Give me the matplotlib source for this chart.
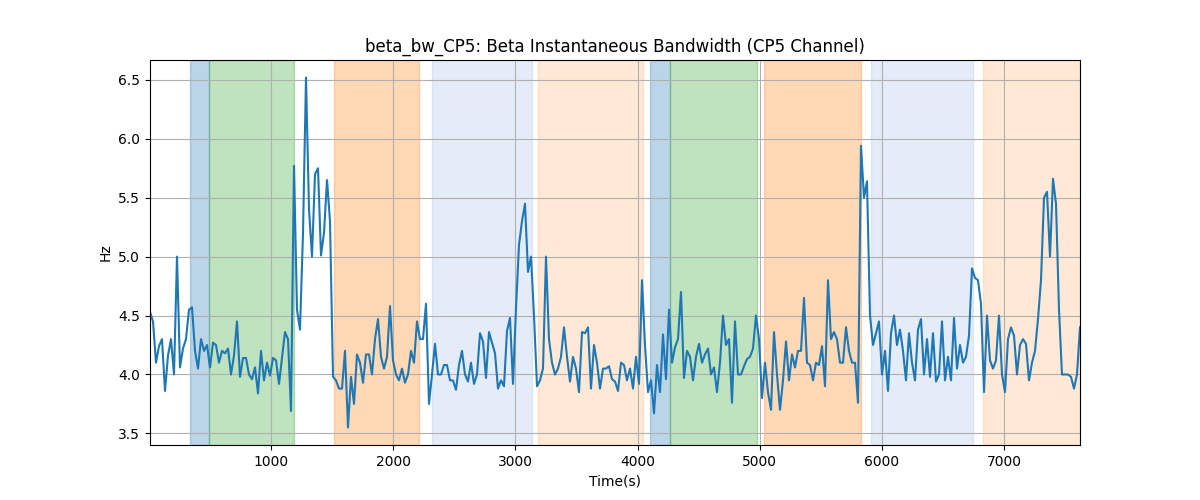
import numpy as np
import matplotlib
matplotlib.use('Agg')
import matplotlib.pyplot as plt

# Beta bandwidth values (Hz), every 3 px
bw_values = [
    # 10 .. ~950 s
    4.53, 4.45, 4.10, 4.24, 4.30, 3.86, 4.16, 4.30, 4.00, 5.00, 4.06, 4.22, 4.30,
    4.55, 4.57, 4.20, 4.05, 4.30, 4.20, 4.25, 4.06, 4.27, 4.25, 4.10, 4.20, 4.18,
    4.22, 4.00, 4.16, 4.45, 3.98, 4.14, 4.14, 4.00, 3.96, 4.06, 3.84, 4.20, 3.95,
    # ~950 .. ~1900 s
    4.10, 3.99, 4.14, 4.12, 3.92, 4.14, 4.36, 4.30, 3.69, 5.77, 4.55, 4.38, 5.20,
    6.52, 5.40, 5.00, 5.70, 5.75, 5.01, 5.20, 5.65, 5.30, 3.98, 3.95, 3.88, 3.88,
    4.20, 3.55, 3.98, 3.75, 4.17, 4.10, 3.93, 4.17, 4.17, 4.00, 4.30, 4.47, 4.15,
    # ~1900 .. ~2850 s
    4.05, 4.15, 4.58, 4.12, 4.00, 3.95, 4.05, 3.93, 4.00, 4.20, 4.10, 4.45, 4.30,
    4.30, 4.60, 3.75, 4.00, 4.26, 4.00, 4.00, 4.08, 4.08, 3.95, 3.95, 3.87, 4.08,
    4.20, 4.00, 3.94, 4.10, 3.92, 4.00, 4.35, 4.28, 3.97, 4.36, 4.27, 4.18, 3.88,
    # ~2850 .. ~3780 s
    3.95, 3.90, 4.37, 4.48, 3.92, 4.56, 5.10, 5.30, 5.45, 4.87, 5.00, 4.50, 3.90,
    3.95, 4.05, 5.00, 4.30, 4.10, 4.00, 4.05, 4.15, 4.40, 4.15, 3.94, 4.15, 4.05,
    3.85, 4.36, 4.35, 4.40, 3.88, 4.25, 4.10, 3.88, 4.05, 4.05, 4.07, 3.96,
    # ~3780 .. ~4720 s
    3.94, 3.86, 4.10, 4.08, 3.95, 4.05, 3.88, 4.15, 3.92, 4.80, 4.25, 3.85, 3.95,
    3.67, 4.08, 3.85, 4.34, 3.96, 4.55, 4.10, 4.23, 4.30, 4.70, 3.97, 4.20, 4.15,
    3.95, 4.15, 4.26, 4.10, 4.17, 4.22, 4.00, 4.06, 3.85, 4.10, 4.50, 4.25,
    # ~4720 .. ~5650 s
    4.30, 3.76, 4.45, 4.00, 4.00, 4.07, 4.13, 4.15, 4.22, 4.50, 4.30, 3.80, 4.10,
    3.85, 3.70, 4.36, 4.00, 3.70, 3.95, 4.28, 3.95, 4.17, 4.06, 4.20, 4.20, 4.65,
    4.10, 4.08, 3.95, 4.10, 4.08, 4.24, 3.90, 4.80, 4.30, 4.36, 4.30, 4.10,
    # ~5650 .. ~6580 s
    4.10, 4.40, 4.20, 4.10, 4.10, 3.76, 5.94, 5.50, 5.64, 4.50, 4.25, 4.35, 4.45,
    4.00, 4.20, 3.86, 4.35, 4.50, 4.25, 4.38, 4.20, 3.95, 4.35, 4.10, 3.95, 4.38,
    4.47, 4.00, 4.30, 3.98, 4.35, 3.94, 4.00, 4.45, 3.95, 4.15, 3.95, 4.48,
    # ~6580 .. 7620 s
    4.05, 4.25, 4.10, 4.15, 4.33, 4.90, 4.82, 4.80, 4.60, 3.85, 4.50, 4.12, 4.05,
    4.12, 4.50, 4.00, 3.85, 4.30, 4.40, 4.33, 4.00, 4.25, 4.30, 4.26, 3.95, 4.10,
    4.20, 4.47, 4.80, 5.50, 5.55, 5.00, 5.66, 5.45, 4.55, 4.00, 4.00, 4.00, 3.98,
    3.88, 4.00, 4.40,
]
t_start, t_end = 10, 7620

# shaded intervals (start, end, colour, alpha)
span_starts = [336, 494, 1515, 2317, 3184, 4101, 4267, 5034, 5909, 6826]
span_ends = [494, 1185, 2208, 3133, 4041, 4267, 4976, 5825, 6741, 7620]
span_colors = ['tab:blue', 'tab:green', 'tab:orange', '#aec7e8', 'tab:orange',
               'tab:blue', 'tab:green', 'tab:orange', '#aec7e8', 'tab:orange']
span_alphas = [0.3, 0.3, 0.3, 0.33, 0.17, 0.3, 0.3, 0.3, 0.33, 0.17]

t = np.linspace(t_start, t_end, len(bw_values))

fig, ax = plt.subplots(figsize=(12, 5), dpi=100)
for s, e, c, a in zip(span_starts, span_ends, span_colors, span_alphas):
    ax.axvspan(s, e, color=c, alpha=a)
ax.plot(t, bw_values, color='tab:blue')
ax.set_xlim(t_start, t_end)
ax.set(xlabel='Time(s)', ylabel='Hz',
       title='beta_bw_CP5: Beta Instantaneous Bandwidth (CP5 Channel)')
ax.grid()

plt.savefig('out.png')
plt.close(fig)
